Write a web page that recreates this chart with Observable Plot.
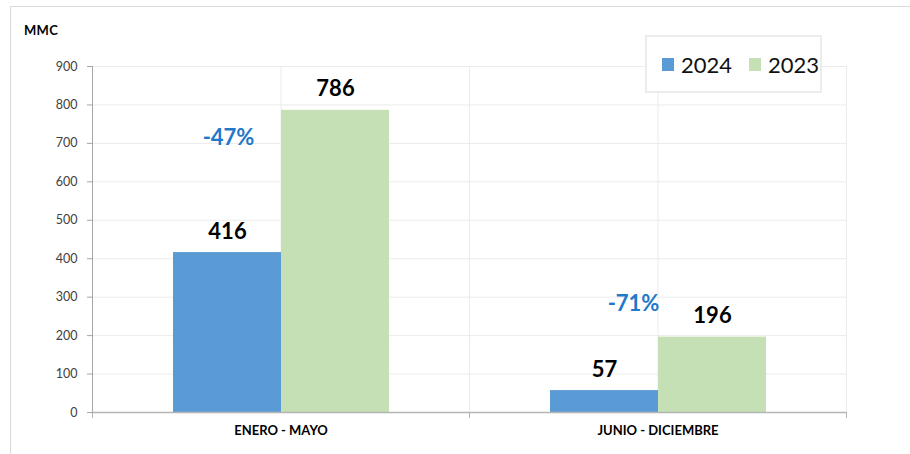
<!DOCTYPE html>
<html>
<head>
<meta charset="utf-8">
<script src="https://cdn.jsdelivr.net/npm/d3@7"></script>
<script src="https://cdn.jsdelivr.net/npm/@observablehq/plot@0.6"></script>
<style>
  html, body { margin: 0; padding: 0; background: #fff; overflow: hidden; }
  #wrap { position: relative; width: 910px; height: 454px; font-family: Lato, "Open Sans", sans-serif; }
  #outer { position: absolute; left: 10px; top: 6px; width: 1000px; height: 1000px; border: 1px solid #d9d9d9; pointer-events: none; z-index: 2; }
  #ytitle { position: absolute; left: 24px; top: 22px; font-size: 13px; font-weight: bold; color: #000; letter-spacing: 0.3px; z-index: 3; }
  #legend { position: absolute; left: 645px; top: 35px; width: 173px; height: 54px; border: 2px solid #ececec; background: #fff; z-index: 3; display: flex; align-items: center; }
  .item { display: flex; align-items: center; font-size: 22px; color: #111; }
  .sw { width: 12px; height: 13px; display: inline-block; margin-right: 7px; }
  svg { position: absolute; left: 0; top: 0; }
</style>
</head>
<body>
<div id="wrap">
  <div id="outer"></div>
  <div id="ytitle">MMC</div>
  <div id="legend"></div>
</div>
<script>
const categories = ["ENERO - MAYO", "JUNIO - DICIEMBRE"];
const series = ["2024", "2023"];
const values2024 = [416, 57];
const values2023 = [786, 196];
const yTicks = [0, 100, 200, 300, 400, 500, 600, 700, 800, 900];
const pctLabelY = [697, 265];
const colors = ["#5b9bd5", "#c5e0b4"];

const W = 910, H = 454, mL = 92, mR = 64, mT = 66, mB = 42;

const data = categories.flatMap((c, i) => [
  {cat: c, serie: series[0], value: values2024[i]},
  {cat: c, serie: series[1], value: values2023[i]}
]);
const pct = categories.map((c, i) => ({
  cat: c, serie: series[0], y: pctLabelY[i],
  text: Math.round((values2024[i] - values2023[i]) / values2023[i] * 100) + "%"
}));

const chart = Plot.plot({
  width: W, height: H,
  marginLeft: mL, marginRight: mR, marginTop: mT, marginBottom: mB,
  style: {fontFamily: "Lato, 'Open Sans', sans-serif", background: "transparent"},
  fx: {domain: categories, padding: 0, label: null, axis: null},
  x: {domain: series, paddingInner: 0, paddingOuter: 0.745, axis: null},
  y: {domain: [0, 900], axis: null},
  color: {domain: series, range: colors},
  marks: [
    Plot.gridY(yTicks, {stroke: "#ebebeb", strokeOpacity: 1}),
    Plot.gridFx({stroke: "#ebebeb", strokeOpacity: 1}),
    Plot.frame({stroke: "#ebebeb"}),
    Plot.barY(data, {fx: "cat", x: "serie", y: "value", fill: "serie"}),
    Plot.ruleY([0], {stroke: "#b5b5b5", strokeWidth: 1.5}),
    Plot.frame({anchor: "left", stroke: "#b5b5b5", insetTop: H - mT - mB, insetBottom: -5}),
    Plot.frame({anchor: "right", stroke: "#b5b5b5", insetTop: H - mT - mB, insetBottom: -5}),
    Plot.frame({anchor: "left", stroke: "#a6a6a6", fx: [categories[0]]}),
    Plot.axisY(yTicks, {anchor: "left", tickSize: 5, tickPadding: 10, fontSize: 12.5, stroke: "#a6a6a6", fill: "#404040", label: null, tickFormat: d => d}),
    Plot.axisFx({anchor: "bottom", tickSize: 0, tickPadding: 13, fontSize: 13, fontWeight: "bold", fill: "#000", label: null}),
    Plot.text(data, {fx: "cat", x: "serie", y: "value", text: d => String(d.value), lineAnchor: "bottom", dy: -14, fontSize: 22, fontWeight: "bold", fill: "#000"}),
    Plot.text(pct.slice(0, 1), {fx: "cat", x: "serie", y: "y", text: "text", lineAnchor: "bottom", fontSize: 22, fontWeight: "bold", fill: "#1f78c8", dx: 1}),
    Plot.text(pct.slice(1), {fx: "cat", x: "serie", y: "y", text: "text", lineAnchor: "bottom", fontSize: 22, fontWeight: "bold", fill: "#1f78c8", dx: 29})
  ]
});
document.getElementById("wrap").appendChild(chart);

const legend = document.getElementById("legend");
series.forEach((s, i) => {
  const it = document.createElement("div");
  it.className = "item";
  it.style.marginLeft = i === 0 ? "15px" : "17px";
  it.innerHTML = `<span class="sw" style="background:${colors[i]}"></span><span>${s}</span>`;
  legend.appendChild(it);
});
</script>
</body>
</html>
